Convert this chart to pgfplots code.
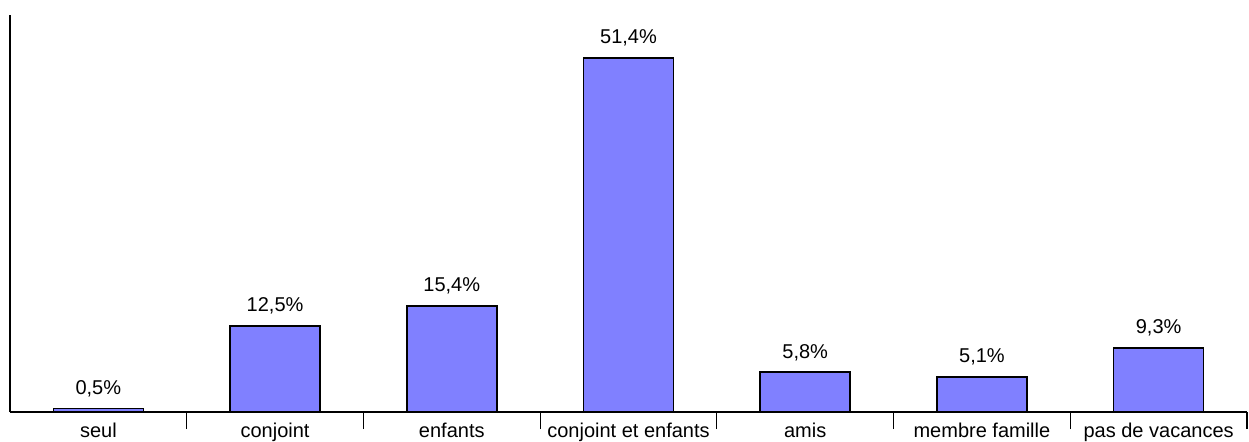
\documentclass[border=0pt]{standalone}
\usepackage{pgfplots}
\pgfplotsset{compat=1.18}
\usepackage{fontspec}
\setmainfont{Liberation Sans}
\definecolor{barblue}{RGB}{128,128,255}
\begin{document}
\begin{tikzpicture}
\useasboundingbox (-5pt,-14.5pt) rectangle (619.5pt,206pt);
\begin{axis}[
  at={(0,0)}, anchor=south west,
  scale only axis, width=618.5pt, height=198.5pt,
  xmin=-0.5, xmax=6.5, ymin=0, ymax=57.6,
  axis x line=bottom, axis y line=left,
  axis line style={-, line width=0.8pt},
  ytick=\empty,
  xtick={0,...,6},
  xticklabels={seul,conjoint,enfants,conjoint et enfants,amis,membre famille,pas de vacances},
  major tick length=0pt,
  xticklabel style={font=\fontsize{10}{12}\selectfont, yshift=-2pt},
  extra x ticks={0.5,1.5,...,6.5},
  extra x tick labels={},
  extra x tick style={major tick length=8.5pt, tick align=outside, tick style={black, line width=0.6pt}},
  /pgf/number format/assume math mode=true,
  nodes near coords={\pgfmathprintnumber[use comma,fixed,fixed zerofill,precision=1]{\pgfplotspointmeta}\%},
  every node near coord/.append style={font=\fontsize{10}{12}\selectfont, yshift=2pt},
  clip=false,
]
\addplot[ybar, bar width=45pt, fill=barblue, draw=black, line width=0.8pt]
  coordinates {(0,0.5) (1,12.5) (2,15.4) (3,51.4) (4,5.8) (5,5.1) (6,9.3)};
\end{axis}
\end{tikzpicture}
\end{document}
